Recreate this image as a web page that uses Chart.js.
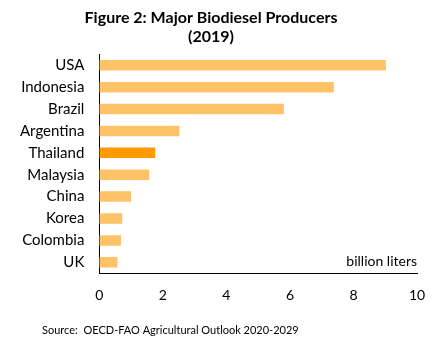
<!DOCTYPE html>
<html>
<head>
<meta charset="utf-8">
<script src="https://cdn.jsdelivr.net/npm/chart.js@4"></script>
<style>
  html, body { margin: 0; padding: 0; background: #fff; }
  #chart { display: block; }
</style>
</head>
<body>
<canvas id="chart" width="448" height="345"></canvas>
<script>
// biodiesel production by country, 2019 (billion liters)
const countries = ['USA', 'Indonesia', 'Brazil', 'Argentina', 'Thailand', 'Malaysia', 'China', 'Korea', 'Colombia', 'UK'];
const production = [9.02, 7.38, 5.81, 2.52, 1.76, 1.57, 1.0, 0.72, 0.68, 0.57];
const xTicks = [0, 2, 4, 6, 8, 10];

const barColor = '#ffc266';
const highlight = 'Thailand';
const highlightColor = '#ff9900';

const fontFamily = 'Lato, "Open Sans", sans-serif';

// unit label inside the plot + source note under the chart
const extraText = {
    id: 'extraText',
    afterDraw(chart) {
        const { ctx, chartArea } = chart;
        ctx.save();
        ctx.fillStyle = '#000';
        ctx.textBaseline = 'middle';
        ctx.font = '14px ' + fontFamily;
        ctx.textAlign = 'right';
        ctx.fillText('billion liters', chartArea.right, chartArea.bottom - 12);
        ctx.font = '11px ' + fontFamily;
        ctx.textAlign = 'left';
        ctx.fillText('Source:  OECD-FAO Agricultural Outlook 2020-2029', 42, 330);
        ctx.restore();
    }
};

new Chart(document.getElementById('chart'), {
    type: 'bar',
    data: {
        labels: countries,
        datasets: [{
            data: production,
            backgroundColor: countries.map(c => c === highlight ? highlightColor : barColor),
            categoryPercentage: 1,
            barPercentage: 0.48
        }]
    },
    options: {
        indexAxis: 'y',
        responsive: false,
        animation: false,
        layout: { padding: { left: 5, right: 31, top: 0, bottom: 27 } },
        plugins: {
            legend: { display: false },
            tooltip: { enabled: false },
            title: {
                display: true,
                text: ['Figure 2: Major Biodiesel Producers', '(2019)'],
                color: '#000',
                font: { family: fontFamily, size: 16, weight: 'bold', lineHeight: 1.2 },
                padding: { top: 8, bottom: 8 }
            }
        },
        scales: {
            x: {
                min: 0,
                max: 10,
                afterBuildTicks: axis => { axis.ticks = xTicks.map(v => ({ value: v })); },
                grid: { display: false, drawTicks: false },
                border: { display: true, color: '#000' },
                ticks: { color: '#000', padding: 14, font: { family: fontFamily, size: 14 } }
            },
            y: {
                grid: { display: false, drawTicks: false },
                border: { display: true, color: '#000' },
                ticks: { color: '#000', padding: 15, font: { family: fontFamily, size: 15 } }
            }
        }
    },
    plugins: [extraText]
});
</script>
</body>
</html>
